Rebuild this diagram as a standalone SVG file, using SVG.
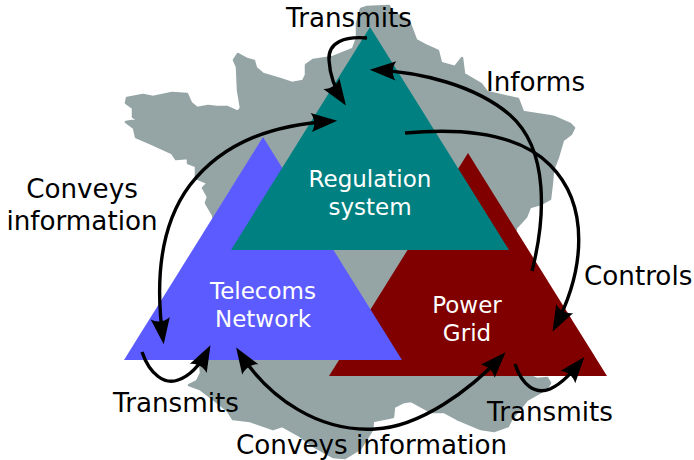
<svg xmlns="http://www.w3.org/2000/svg" width="694" height="460" viewBox="0 0 694 460">
<style>
text{font-family:"DejaVu Sans",sans-serif}
.lbl{font-size:26.2px;fill:#000}
.nl{font-size:23px;fill:#fff;text-anchor:middle}
.c{fill:none;stroke:#000;stroke-width:3.4;marker-end:url(#ah)}
.both{marker-start:url(#ahs)}
</style>
<defs>
<marker id="ah" markerUnits="userSpaceOnUse" viewBox="-11 -5 14 10" markerWidth="33.6" markerHeight="24" refX="0" refY="0" orient="auto"><path d="M-8.72,4.03 L2.2,0 L-8.72,-4 C-6.97,-1.63 -6.97,1.65 -8.72,4.03 z" fill="#000"/></marker>
<marker id="ahs" markerUnits="userSpaceOnUse" viewBox="-3 -5 14 10" markerWidth="33.6" markerHeight="24" refX="0" refY="0" orient="auto"><path d="M8.72,4.03 L-2.2,0 L8.72,-4 C6.97,-1.63 6.97,1.65 8.72,4.03 z" fill="#000"/></marker>
</defs>
<rect width="694" height="460" fill="#fff"/>
<path id="france" fill="#95a5a6" stroke="#95a5a6" stroke-width="2.5" stroke-linejoin="round" d="M126,103 L127,98 L143,95 L153,97 L172,93 L187,94 L191,103 L197,108 L208,106 L217,107 L227,107 L238,112 L241,108 L238,90 L237,67 L234,60 L238,54 L247,59 L254,61 L256,68 L263,74 L280,79 L292,83 L303,81 L306,75 L306,65 L313,60 L333,57 L353,49 L357,38 L357,23 L361,9 L367,7 L389,6 L392,12 L404,18 L410,24 L416,40 L427,46 L438,51 L441,63 L455,67 L462,58 L464,74 L481,84 L487,92 L518,99 L523,112 L549,116 L554,117 L570,124 L574,128 L571,134 L563,140 L558,157 L553,170 L552,182 L550,199 L541,204 L530,207 L526,217 L516,228 L500,300 L527,375 L537,379 L547,378 L550,383 L547,388 L541,392 L527,400 L511,420 L508,426 L494,431 L481,429 L457,419 L444,412 L431,412 L411,401 L404,402 L394,407 L393,417 L373,421 L372,430 L360,449 L345,458 L333,457 L313,446 L300,436 L282,426 L273,429 L250,421 L233,419 L228,411 L217,402 L200,389 L189,385 L197,381 L201,373 L200,362 L230,300 L213,215 L206,203 L208,197 L203,188 L208,183 L196,178 L196,166 L188,163 L188,158 L176,159 L172,153 L150,143 L136,137 L134,128 L126,122 L138,120 L133,117 L133,108 Z"/>
<g id="power-grid">
<path d="M468,153 L607,376 L329,376 Z" fill="#800000"/>
<text class="nl" x="467" y="313">Power</text>
<text class="nl" x="467" y="341">Grid</text>
</g>
<g id="telecoms-network">
<path d="M263,137 L402,360 L124,360 Z" fill="#5b5bff"/>
<text class="nl" x="263" y="299">Telecoms</text>
<text class="nl" x="263" y="327">Network</text>
</g>
<g id="regulation-system">
<path d="M370,27 L509,250 L231,250 Z" fill="#008080"/>
<text class="nl" x="370" y="187">Regulation</text>
<text class="nl" x="370" y="215">system</text>
</g>
<g id="connectors">
<path class="c" d="M367,38 C345,36 328,42 329,60 C330,78 337,92 343,101"/>
<path class="c" d="M532,271 C545,220 550,150 510,115 C475,85 420,72 375,70"/>
<path class="c" d="M405,133 C470,127 520,135 550,165 C590,205 585,270 555,327"/>
<path class="c both" d="M163,339 C155,280 160,225 190,185 C225,140 275,125 332,121"/>
<path class="c both" d="M239,352 C270,400 320,432 375,429 C420,427 470,390 502,356"/>
<path class="c" d="M142,352 C150,375 165,385 178,380 C190,376 200,365 208,350"/>
<path class="c" d="M515,364 C522,385 535,395 550,389 C563,383 572,372 581,361"/>
</g>
<g id="labels">
<text class="lbl" x="286" y="27">Transmits</text>
<text class="lbl" x="486" y="91">Informs</text>
<text class="lbl" x="82" y="198" text-anchor="middle">Conveys</text>
<text class="lbl" x="82" y="230" text-anchor="middle">information</text>
<text class="lbl" x="584" y="285">Controls</text>
<text class="lbl" x="113" y="412">Transmits</text>
<text class="lbl" x="487" y="421">Transmits</text>
<text class="lbl" x="236" y="454">Conveys information</text>
</g>
</svg>
